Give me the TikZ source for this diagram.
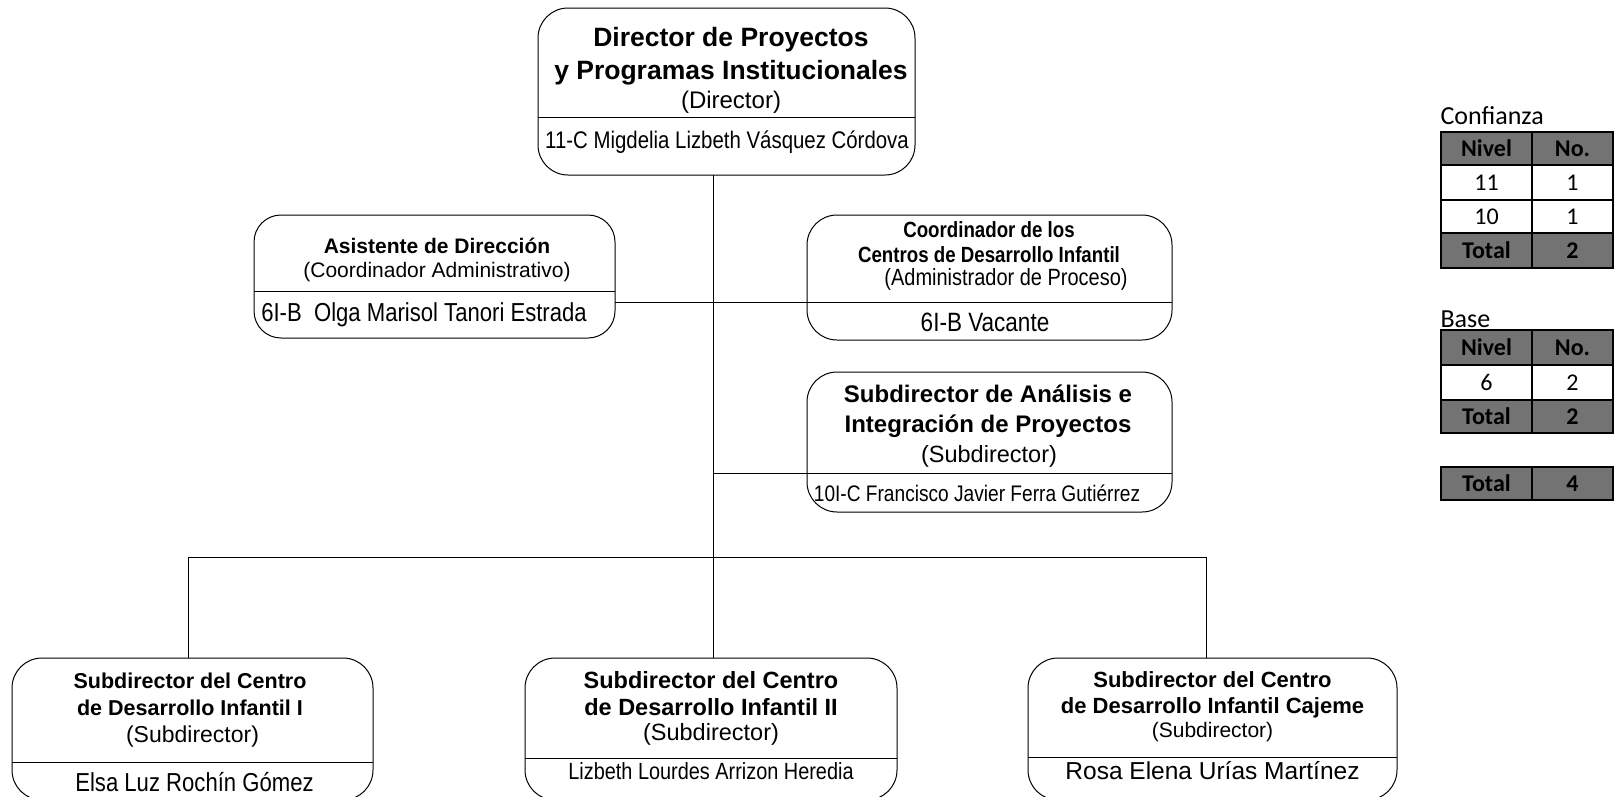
\documentclass[tikz,border=0pt]{standalone}
\usepackage{fontspec}
\setmainfont{Liberation Sans}
\newfontfamily\narrowfont[FakeStretch=0.85]{Liberation Sans}
\newfontfamily\tablefont{Carlito}
\newcommand{\setsz}[2]{\fontsize{#1}{#2}\selectfont}
\definecolor{headgray}{RGB}{115,115,115}
\tikzset{
  box/.style = {draw, rounded corners=#1, line width=1pt,
                inner sep=0pt, outer sep=0pt},
  box/.default = 30pt,
  txt/.style = {align=center, inner sep=0pt, anchor=base},
  tab/.style = {line width=2pt, black},
  cell/.style = {inner sep=0pt, font=\tablefont\setsz{24}{28}}
}

\begin{document}
\begin{tikzpicture}[x=1pt, y=-1pt, line width=1pt]
	\useasboundingbox (0,0) rectangle (1614,796);

	% Director
	\node[box, minimum width=377pt, minimum height=167pt] (dir) at (726.5,91.5) {};
	\coordinate (dir-d) at (726.5,117);
	\draw (dir.west |- dir-d) -- (dir.east |- dir-d);
	\node[txt, font=\bfseries\setsz{26.5}{33}] (dir-t) at (731,79) {Director de Proyectos\\ y Programas Institucionales};
	\node[txt, font=\setsz{24}{28}] (dir-r) at (731,108) {(Director)};
	\node[txt, font=\narrowfont\setsz{24}{28}] (dir-n) at (727,148) {11-C Migdelia Lizbeth Vásquez Córdova};

	% Asistente
	\node[box=27pt, minimum width=361pt, minimum height=123pt] (asis) at (434.5,276.5) {};
	\coordinate (asis-d) at (434.5,291);
	\draw (asis.west |- asis-d) -- (asis.east |- asis-d);
	\node[txt, font=\bfseries\setsz{21}{25}] (asis-t) at (437,253) {Asistente de Dirección};
	\node[txt, font=\setsz{21}{25}] (asis-r) at (437,277) {(Coordinador Administrativo)};
	\node[txt, font=\narrowfont\setsz{26}{30}] (asis-n) at (424,321) {6I-B\ \ Olga Marisol Tanori Estrada};

	% Coordinador
	\node[box, minimum width=365pt, minimum height=125pt] (coord) at (989.5,277.5) {};
	\coordinate (coord-d) at (807,302);
	\draw (coord.west |- coord-d) -- (coord.east |- coord-d);
	\node[txt, font=\narrowfont\bfseries\setsz{22}{25}] (coord-t) at (989,262) {Coordinador de los\\ Centros de Desarrollo Infantil};
	\node[txt, font=\narrowfont\setsz{23.5}{28}] (coord-r) at (1006,285) {(Administrador de Proceso)};
	\node[txt, font=\narrowfont\setsz{26.5}{30}] (coord-n) at (985,331) {6I-B Vacante};

	% Analisis
	\node[box, minimum width=365pt, minimum height=140pt] (ana) at (989.5,442) {};
	\coordinate (ana-d) at (807,473);
	\draw (ana.west |- ana-d) -- (ana.east |- ana-d);
	\node[txt, font=\bfseries\setsz{24}{30}] (ana-t) at (988,432) {Subdirector de Análisis e\\ Integración de Proyectos};
	\node[txt, font=\setsz{23.5}{27}] (ana-r) at (989,462) {(Subdirector)};
	\node[txt, font=\narrowfont\setsz{22.5}{26}] (ana-n) at (977,501) {10I-C Francisco Javier Ferra Gutiérrez};

	% Centros
	\node[box, minimum width=361pt, minimum height=142pt] (cdi1) at (192.5,729) {};
	\coordinate (cdi1-d) at (192.5,762);
	\draw (cdi1.west |- cdi1-d) -- (cdi1.east |- cdi1-d);
	\node[txt, font=\bfseries\setsz{21.5}{27}] (cdi1-t) at (190,715) {Subdirector del Centro\\ de Desarrollo Infantil I};
	\node[txt, font=\setsz{23}{27}] (cdi1-r) at (192.5,742) {(Subdirector)};
	\node[txt, font=\narrowfont\setsz{26}{30}] (cdi1-n) at (194.5,791) {Elsa Luz Rochín Gómez};

	\node[box, minimum width=372pt, minimum height=142pt] (cdi2) at (711,729) {};
	\coordinate (cdi2-d) at (711,758);
	\draw (cdi2.west |- cdi2-d) -- (cdi2.east |- cdi2-d);
	\node[txt, font=\bfseries\setsz{23.5}{27}] (cdi2-t) at (711,715) {Subdirector del Centro\\ de Desarrollo Infantil II};
	\node[txt, font=\setsz{23.5}{27}] (cdi2-r) at (711,740) {(Subdirector)};
	\node[txt, font=\narrowfont\setsz{23.4}{27}] (cdi2-n) at (711,779) {Lizbeth Lourdes Arrizon Heredia};

	\node[box, minimum width=369pt, minimum height=142pt] (cdi3) at (1212.5,729) {};
	\coordinate (cdi3-d) at (1212.5,757);
	\draw (cdi3.west |- cdi3-d) -- (cdi3.east |- cdi3-d);
	\node[txt, font=\bfseries\setsz{22}{26}] (cdi3-t) at (1212.5,713) {Subdirector del Centro\\ de Desarrollo Infantil Cajeme};
	\node[txt, font=\setsz{21}{25}] (cdi3-r) at (1212.5,737) {(Subdirector)};
	\node[txt, font=\setsz{24.5}{28}] (cdi3-n) at (1212.5,779) {Rosa Elena Urías Martínez};

	% Lines
	\coordinate (bus) at (713,557);
	\draw (dir.south -| bus) -- (bus |- cdi2.north);
	\draw (asis.east |- coord-d) -- (coord-d);
	\draw (ana-d) -- (ana-d -| bus);
	\draw ([xshift=-4pt]cdi1.north) -- ([xshift=-4pt]cdi1.north |- bus) -- ([xshift=-6pt]cdi3.north |- bus) -- ([xshift=-6pt]cdi3.north);

	% Tables
	\def \tl{1441}
	\def \tm{1532}
	\def \tr{1613}
	\node[anchor=west, inner sep=0pt, font=\tablefont\setsz{26}{30}] (conf) at (1440,116) {Confianza};
	\fill[headgray] (\tl,132) rectangle (\tr,165);
	\fill[headgray] (\tl,233) rectangle (\tr,268);
	\foreach \y in {165,200,233} \draw[tab] (\tl,\y) -- (\tr,\y);
	\draw[tab] (\tm,132) -- (\tm,268);
	\draw[tab] (\tl,132) rectangle (\tr,268);
	\foreach \a/\b/\y [count=\i] in {\textbf{Nivel}/\textbf{No.}/148.5, 11/1/182.5, 10/1/216.5, \textbf{Total}/\textbf{2}/250.5} {
		\node[cell] (conf-a\i) at (1486.5,\y) {\a};
		\node[cell] (conf-b\i) at (1572.5,\y) {\b};
	}

	\node[anchor=west, inner sep=0pt, font=\tablefont\setsz{26}{30}] (base) at (1440,319) {Base};
	\fill[headgray] (\tl,330) rectangle (\tr,365);
	\fill[headgray] (\tl,400) rectangle (\tr,433);
	\foreach \y in {365,400} \draw[tab] (\tl,\y) -- (\tr,\y);
	\draw[tab] (\tm,330) -- (\tm,433);
	\draw[tab] (\tl,330) rectangle (\tr,433);
	\foreach \a/\b/\y [count=\i] in {\textbf{Nivel}/\textbf{No.}/347.5, 6/2/382.5, \textbf{Total}/\textbf{2}/416.5} {
		\node[cell] (base-a\i) at (1486.5,\y) {\a};
		\node[cell] (base-b\i) at (1572.5,\y) {\b};
	}

	\fill[headgray] (\tl,467) rectangle (\tr,500);
	\draw[tab] (\tm,467) -- (\tm,500);
	\draw[tab] (\tl,467) rectangle (\tr,500);
	\node[cell] (tot-a) at (1486.5,483.5) {\textbf{Total}};
	\node[cell] (tot-b) at (1572.5,483.5) {\textbf{4}};
\end{tikzpicture}
\end{document}
